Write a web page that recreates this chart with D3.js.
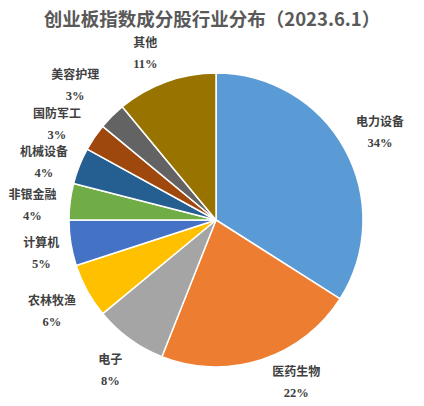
<!DOCTYPE html>
<html>
<head>
<meta charset="utf-8">
<script src="https://cdn.jsdelivr.net/npm/d3@7/dist/d3.min.js"></script>
<style>
  html, body { margin: 0; padding: 0; background: #ffffff; }
  svg { display: block; }
</style>
</head>
<body>
<script>
// ---- data ----
const categories = ["电力设备", "医药生物", "电子", "农林牧渔", "计算机", "非银金融", "机械设备", "国防军工", "美容护理", "其他"];
const shares = [34, 22, 8, 6, 5, 4, 4, 3, 3, 11];
const colors = ["#5B9BD5", "#ED7D31", "#A5A5A5", "#FFC000", "#4472C4", "#70AD47", "#255E91", "#9E480E", "#636363", "#997300"];
const titleText = "创业板指数成分股行业分布（2023.6.1）";

// ---- layout ----
const W = 424, H = 406;
const cx = 216, cy = 220, R = 147, labelR = 185;
// label nudges relative to the label-arc centroid (Excel-style label placement)
const labelNudge = [[2, 1], [23, -14], [3, 0], [-2, 2], [8, 4], [0, 8], [0, 10], [-6, 8], [-10, -4], [-8, 7]];
const lineGap = 22.5;

const svg = d3.select("body").append("svg").attr("width", W).attr("height", H);

svg.append("text")
  .attr("x", 212).attr("y", 18)
  .attr("text-anchor", "middle").attr("dominant-baseline", "central")
  .attr("font-family", "'Noto Sans CJK SC', sans-serif")
  .attr("font-weight", "bold").attr("font-size", 18.5)
  .attr("fill", "#595959")
  .text(titleText);

const data = categories.map((c, i) => ({ name: c, value: shares[i], color: colors[i], i }));
const pie = d3.pie().value(d => d.value).sort(null);
const arcs = pie(data);
const arc = d3.arc().innerRadius(0).outerRadius(R);
const labelArc = d3.arc().innerRadius(labelR).outerRadius(labelR);

const g = svg.append("g").attr("transform", `translate(${cx},${cy})`);
g.selectAll("path.slice").data(arcs).enter().append("path")
  .attr("class", "slice")
  .attr("d", arc)
  .attr("fill", d => d.data.color)
  .attr("stroke", "#ffffff")
  .attr("stroke-width", 1.5)
  .attr("stroke-linejoin", "round");

const lab = g.selectAll("g.lab").data(arcs).enter().append("g")
  .attr("class", "lab")
  .attr("transform", d => {
    const c = labelArc.centroid(d);
    const n = labelNudge[d.data.i];
    return `translate(${c[0] + n[0]},${c[1] + n[1]})`;
  });

lab.append("text")
  .attr("y", -lineGap / 2)
  .attr("text-anchor", "middle").attr("dominant-baseline", "central")
  .attr("font-family", "'Noto Sans CJK SC', sans-serif")
  .attr("font-weight", "bold").attr("font-size", 12)
  .attr("fill", "#404040")
  .text(d => d.data.name);

lab.append("text")
  .attr("y", lineGap / 2)
  .attr("text-anchor", "middle").attr("dominant-baseline", "central")
  .attr("font-family", "'Liberation Serif', 'Noto Sans CJK SC', serif")
  .attr("font-weight", "bold").attr("font-size", 12.5)
  .attr("fill", "#404040")
  .text(d => d.data.value + "%");
</script>
</body>
</html>
